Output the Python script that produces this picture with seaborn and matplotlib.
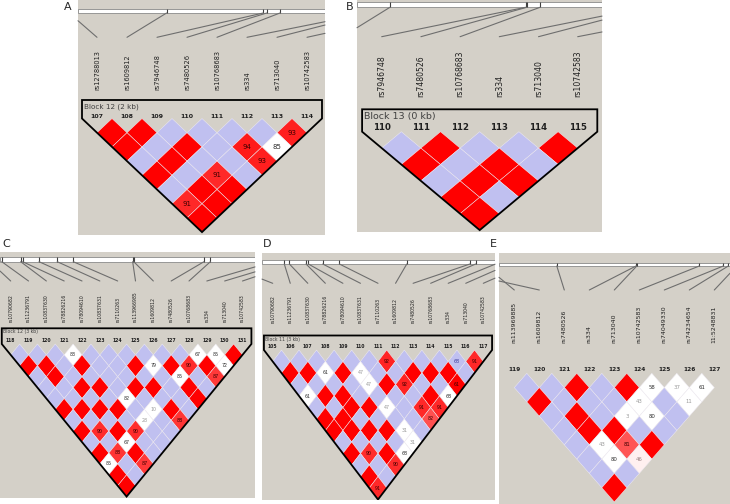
import matplotlib
matplotlib.use('Agg')
import matplotlib.pyplot as plt
from matplotlib.patches import Polygon
from matplotlib.lines import Line2D
import seaborn as sns

sns.set_theme(style='white')
plt.rcParams['font.family'] = ['DejaVu Sans']

W, H = 730, 504
GRAY = '#d4d0c8'
BLUE = '#c0c0f0'
RED = '#ff0000'

# ============================================================
# Data: marker numbers, SNP names, physical positions on the bar
# (in marker-spacing units) and LD rows (row d = pairs (i, i+d)).
# R = D'=1 LOD>=2, B = D'=1 LOD<2, Wnn = white with D', Pnn = shaded red
# ============================================================
A_NUMS = [107, 108, 109, 110, 111, 112, 113, 114]
A_SNPS = ['rs12788013', 'rs1609812', 'rs7946748', 'rs7480526',
          'rs10768683', 'rs334', 'rs713040', 'rs10742583']
A_POS = [-0.93, 2.32, 5.54, 5.66, 6.1, 9.05, 9.17, 10.7]
A_LD = [
    'R R B B B B P93',
    'R B R B P94 W85',
    'B R B B P93',
    'R B P91 B',
    'B R R',
    'P91 R',
    'R',
]

B_NUMS = [110, 111, 112, 113, 114, 115]
B_SNPS = ['rs1609812', 'rs7946748', 'rs7480526', 'rs10768683',
          'rs334', 'rs713040', 'rs10742583']
B_POS = [0.21, 3.67, 3.7, 4.04, 6.74, 6.87, 8.85]
B_LD = [
    'B R B B R',
    'R B R B',
    'B R R',
    'R B',
    'R',
]

C_NUMS = list(range(118, 132))
C_SNPS = ['rs10790682', 'rs11236791', 'rs10837630', 'rs78826216',
          'rs78094610', 'rs10837631', 'rs7110263', 'rs113966985',
          'rs1609812', 'rs7480526', 'rs10768683', 'rs334', 'rs713040',
          'rs10742583']
C_POS = [-1.16, -0.5, 0.56, 0.67, 1.59, 2.61, 3.51, 6.84, 6.9,
         10.84, 11.2, 14.7, 15.6, 16.2]
C_LD = [
    'B B B W83 B B B B B B W67 W85 R',
    'R R B R B B R W79 R P90 R W72',
    'B R B B B B B B W85 B P87',
    'B B R R B R R B R B',
    'B B B B W82 B B B R',
    'R R R R B W10 R B',
    'B B B B W28 B P88',
    'R P90 R P90 B B',
    'B B W67 B B',
    'R P88 R B',
    'W85 B P87',
    'R B',
    'R',
]

D_NUMS = list(range(105, 118))
D_SNPS = ['rs10790682', 'rs11236791', 'rs10837630', 'rs78826216',
          'rs78094610', 'rs10837631', 'rs7110263', 'rs1609812',
          'rs7480526', 'rs10768683', 'rs334', 'rs713040', 'rs10742583']
D_POS = [-2.8, 0.66, 0.95, 1.9, 2.03, 2.85, 3.8, 7.64, 11.24, 11.57,
         12.7, 13.5, 14.5]
D_LD = [
    'B B B B B B P92 B B B B68 P91',
    'R R W61 R W47 B B R R R B',
    'B B B B W47 R P92 B B R61',
    'W61 R R B B B B R W68',
    'B B R R W47 B P91 P91',
    'R R B B B B P82',
    'R R R R W31 B',
    'B B B B W31',
    'R P90 R W68',
    'B B P90',
    'R B',
    'P91',
]

E_NUMS = list(range(119, 128))
E_SNPS = ['rs113969885', 'rs1609812', 'rs7480526', 'rs334', 'rs713040',
          'rs10742583', 'rs74049330', 'rs74234654', '11:5248831']
E_POS = [-1.16, -3.3, 1.7, 4.87, 4.9, 7.4, 8.36, 8.56, 8.9]
E_LD = [
    'B B R B R W58 W37 W61',
    'R B B B W43 B W11',
    'B R B W3 W80 B',
    'B R R B B',
    'B W43 P81 R',
    'B W80 P46',
    'B B',
    'R',
]

# ============================================================
# Layout (pixels of the 730x504 canvas)
# ============================================================
PANELS = {
    'A': dict(box=(78, 0, 325, 235), mx0=97, sx=30, ytop=118.5, hh=14.2,
              bar=(8.5, 13), line_bot=37.3, label_bot=90, num_y=116,
              otop=100, block_y=106.7, block='Block 12 (2 kb)',
              fs_lab=4.8, fs_num=4.5, fs_blk=5.2, fs_cell=5, hidden=0,
              tag=(67.7, 7)),
    'B': dict(box=(357, 0, 602, 232), mx0=381.7, sx=39.2, ytop=131.7, hh=16.4,
              bar=(1.7, 7.3), line_bot=36.7, label_bot=96.7, num_y=127.7,
              otop=109.3, block_y=116.7, block='Block 13 (0 kb)',
              fs_lab=5.6, fs_num=6.2, fs_blk=6.8, fs_cell=6, hidden=1,
              tag=(349.3, 7)),
    'C': dict(box=(0, 252, 255, 498), mx0=10.7, sx=17.83, ytop=344, hh=10.9,
              bar=(257.3, 261.7), line_bot=281, label_bot=321.7, num_y=340,
              otop=328.3, block_y=332, block='Block 12 (3 kb)',
              fs_lab=3.3, fs_num=3.3, fs_blk=3.3, fs_cell=3.4, hidden=0,
              tag=(6, 244)),
    'D': dict(box=(262, 253, 495, 500), mx0=272.7, sx=17.55, ytop=350, hh=11.5,
              bar=(260, 264), line_bot=283.3, label_bot=323.3, num_y=346.7,
              otop=335.5, block_y=339.5, block='Block 11 (3 kb)',
              fs_lab=3.3, fs_num=3.3, fs_blk=3.3, fs_cell=3.4, hidden=0,
              tag=(267, 244)),
    'E': dict(box=(499, 253, 730, 504), mx0=514.3, sx=25, ytop=373.3, hh=14.3,
              bar=(262.7, 266), line_bot=290, label_bot=343.3, num_y=369.3,
              otop=None, block_y=None, block=None,
              fs_lab=4.5, fs_num=4.2, fs_blk=4, fs_cell=3.9, hidden=0,
              tag=(493, 244)),
}


def cell_style(code):
    kind, val = code[0], code[1:]
    if kind == 'R':
        face, tc = RED, '#3c0000'
    elif kind == 'B':
        face, tc = BLUE, '#3c3c9c'
    elif kind == 'W':
        face = 'white'
        tc = '#9a9a9a' if int(val) < 50 else '#303030'
    else:
        # Haploview shading for D' < 1 with LOD >= 2
        g = min(255, max(0, int(223 * 2 * (1 - int(val) / 100)))) / 255
        face = (1.0, g, g)
        tc = '#9a8080' if int(val) < 50 else '#3c0000'
    return face, tc, val


def clip_segment(xa, ya, xb, yb, lo, hi):
    # cut the connector where it leaves the panel (left/right edges)
    def cut(x_out, y_out, x_in, y_in):
        edge = lo if x_out < lo else hi
        t = (edge - x_in) / (x_out - x_in)
        return edge, y_in + t * (y_out - y_in)
    if not (lo <= xa <= hi):
        xa, ya = cut(xa, ya, xb, yb)
    if not (lo <= xb <= hi):
        xb, yb = cut(xb, yb, xa, ya)
    return xa, ya, xb, yb


fig = plt.figure(figsize=(W / 100, H / 100), dpi=100)
fig.patch.set_facecolor('white')


def draw_panel(name, nums, snps, pos, ld):
    p = PANELS[name]
    x0, y0, x1, y1 = p['box']
    ax = fig.add_axes([x0 / W, 1 - y1 / H, (x1 - x0) / W, (y1 - y0) / H])
    ax.set_facecolor(GRAY)
    ax.set_xticks([])
    ax.set_yticks([])
    for s in ax.spines.values():
        s.set_visible(False)

    def mx(px):
        return (px - p['mx0']) / p['sx']

    def my(py):
        return -(py - p['ytop']) / p['hh']

    lo, hi = mx(x0), mx(x1)
    ax.set_xlim(lo, hi)
    ax.set_ylim(my(y1), my(y0))
    n = len(nums)
    hid = p['hidden']

    # chromosome bar, ticks and connector lines
    b0, b1 = p['bar']
    ax.axhspan(my(b1), my(b0), facecolor='white', edgecolor='#8a8a8a',
               lw=0.6, zorder=1)
    vis = [ps for ps in pos if lo <= ps <= hi]
    ax.vlines(vis, my(b1), my(b0), color='#404040', lw=0.8, zorder=3)
    ybot = my(p['line_bot'])
    ybar = my(b1)
    for k, ps in enumerate(pos):
        if not (lo <= ps <= hi) and not (lo <= k - hid <= hi):
            continue
        xa, ya, xb, yb = clip_segment(ps, ybar, k - hid, ybot, lo, hi)
        fig.add_artist(Line2D([xa, xb], [ya, yb], transform=ax.transData,
                              color='#6e6e6e', lw=0.8, zorder=5))
    for k, snp in enumerate(snps):
        ax.text(k - hid, my(p['label_bot']), snp, rotation=90,
                ha='center', va='bottom', fontsize=p['fs_lab'],
                color='#202020', clip_on=True)

    # marker numbers
    for k, num in enumerate(nums):
        ax.text(k, my(p['num_y']), str(num), ha='center', va='center',
                fontsize=p['fs_num'], fontweight='bold', color='#202020')

    # LD diamonds
    for d, row in enumerate(ld, start=1):
        for i, code in enumerate(row.split()):
            cx, cy = i + d / 2, -d
            face, tc, val = cell_style(code)
            ax.add_patch(Polygon([(cx - 0.5, cy), (cx, cy + 1), (cx + 0.5, cy),
                                  (cx, cy - 1)], closed=True, facecolor=face,
                                 edgecolor='#eeeaf2', lw=0.35))
            if val:
                ax.text(cx, cy, val, ha='center', va='center',
                        fontsize=p['fs_cell'], color=tc)

    # haplotype block outline
    if p['block']:
        top = my(p['otop'])
        ax.add_patch(Polygon([(-0.5, top), (n - 0.5, top), (n - 0.5, 0),
                              ((n - 1) / 2, -n), (-0.5, 0)], closed=True,
                             fill=False, edgecolor='black', lw=1.3,
                             joinstyle='miter'))
        ax.text(-0.5 + 1.5 / p['sx'], my(p['block_y']), p['block'],
                ha='left', va='center', fontsize=p['fs_blk'], color='#404040')

    ax.set_xlim(lo, hi)
    ax.set_ylim(my(y1), my(y0))

    tx, ty = p['tag']
    fig.text(tx / W, 1 - ty / H, name, fontsize=8, ha='center', va='center')
    return ax


draw_panel('A', A_NUMS, A_SNPS, A_POS, A_LD)
draw_panel('B', B_NUMS, B_SNPS, B_POS, B_LD)
draw_panel('C', C_NUMS, C_SNPS, C_POS, C_LD)
draw_panel('D', D_NUMS, D_SNPS, D_POS, D_LD)
draw_panel('E', E_NUMS, E_SNPS, E_POS, E_LD)

fig.savefig('out.png', dpi=100, facecolor='white')
plt.close(fig)
